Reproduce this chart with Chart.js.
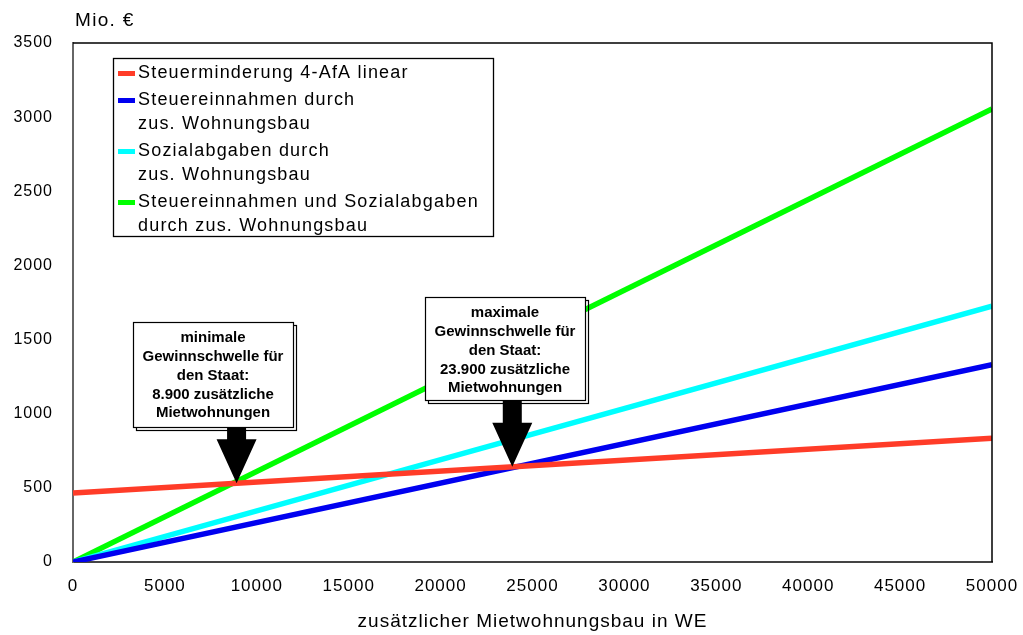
<!DOCTYPE html>
<html>
<head>
<meta charset="utf-8">
<script src="https://cdn.jsdelivr.net/npm/chart.js@4/dist/chart.umd.min.js"></script>
<style>
  html, body { margin: 0; padding: 0; background: #ffffff; }
  #wrap { width: 1023px; height: 635px; position: relative; }
</style>
</head>
<body>
<div id="wrap"><canvas id="chart"></canvas></div>
<script>
// x positions (zusätzliche Wohneinheiten) of the line ends
const wohneinheiten = [0, 50000];
// Mio. € at each end
const steuerminderung = [465, 835];
const steuereinnahmen = [0, 1330];
const sozialabgaben = [0, 1725];
const steuerUndSozial = [0, 3055];

const seriesNames = [
  ['Steuerminderung 4-AfA linear'],
  ['Steuereinnahmen durch', 'zus. Wohnungsbau'],
  ['Sozialabgaben durch', 'zus. Wohnungsbau'],
  ['Steuereinnahmen und Sozialabgaben', 'durch zus. Wohnungsbau']
];
const seriesColors = ['#ff3c28', '#0000f0', '#00ffff', '#00ff00'];

const xTickLabels = ['0', '5000', '10000', '15000', '20000', '25000', '30000', '35000', '40000', '45000', '50000'];
const yTickLabels = ['0', '500', '1000', '1500', '2000', '2500', '3000', '3500'];

// break-even points (WE) and their callout texts
const gewinnschwellen = [8900, 23900];
const schwellenTexte = [
  ['minimale', 'Gewinnschwelle für', 'den Staat:', '8.900 zusätzliche', 'Mietwohnungen'],
  ['maximale', 'Gewinnschwelle für', 'den Staat:', '23.900 zusätzliche', 'Mietwohnungen']
];

const FONT = 'Arial, "Liberation Sans", sans-serif';

function points(ys) {
  return wohneinheiten.map((x, i) => ({ x: x, y: ys[i] }));
}

// value of the tax-reduction line at a given x
function steuerminderungAt(x) {
  const x0 = wohneinheiten[0], x1 = wohneinheiten[1];
  const y0 = steuerminderung[0], y1 = steuerminderung[1];
  return y0 + (y1 - y0) * (x - x0) / (x1 - x0);
}

const spacingPlugin = {
  id: 'letterSpacing',
  beforeLayout(chart) { chart.ctx.letterSpacing = '1px'; },
  beforeDraw(chart) { chart.ctx.letterSpacing = '1px'; }
};

const decorPlugin = {
  id: 'decor',
  afterDatasetsDraw(chart) {
    const ctx = chart.ctx;
    const area = chart.chartArea;
    const xs = chart.scales.x, ys = chart.scales.y;
    ctx.save();

    // frame top and right
    ctx.strokeStyle = '#000';
    ctx.lineWidth = 1.5;
    ctx.beginPath();
    ctx.moveTo(area.left, area.top);
    ctx.lineTo(area.right, area.top);
    ctx.lineTo(area.right, area.bottom);
    ctx.stroke();

    // unit label
    ctx.letterSpacing = '1.3px';
    ctx.fillStyle = '#000';
    ctx.font = '19px ' + FONT;
    ctx.textAlign = 'left';
    ctx.textBaseline = 'middle';
    ctx.fillText('Mio. €', area.left + 2, 21);

    // legend
    const lg = { x: area.left + 40, y: area.top + 15, w: 380, h: 178 };
    ctx.fillStyle = '#fff';
    ctx.fillRect(lg.x, lg.y, lg.w, lg.h);
    ctx.lineWidth = 1.3;
    ctx.strokeStyle = '#000';
    ctx.strokeRect(lg.x + 0.5, lg.y + 0.5, lg.w, lg.h);
    ctx.font = '18px ' + FONT;
    ctx.letterSpacing = '1.2px';
    let ly = lg.y + 15;
    seriesNames.forEach((lines, i) => {
      ctx.fillStyle = seriesColors[i];
      ctx.fillRect(lg.x + 5, ly - 2, 17, 5);
      ctx.fillStyle = '#000';
      lines.forEach((t, j) => {
        ctx.fillText(t, lg.x + 25, ly + j * 24);
      });
      ly += lines.length * 24 + 3;
    });

    // callouts with arrows
    const boxes = [
      { x: 133, y: 322, w: 160, h: 105 },
      { x: 425, y: 297, w: 160, h: 103 }
    ];
    ctx.letterSpacing = '0px';
    gewinnschwellen.forEach((we, i) => {
      const b = boxes[i];
      const tipX = xs.getPixelForValue(we);
      const tipY = ys.getPixelForValue(steuerminderungAt(we));
      // shadow
      ctx.strokeStyle = '#000';
      ctx.lineWidth = 1.2;
      ctx.strokeRect(b.x + 3.5, b.y + 3.5, b.w, b.h);
      ctx.fillStyle = '#fff';
      ctx.fillRect(b.x, b.y, b.w, b.h);
      ctx.strokeRect(b.x + 0.5, b.y + 0.5, b.w, b.h);
      // arrow
      const shaft = 9.5, head = 20, headLen = 44;
      const startY = b.y + b.h + 1;
      ctx.fillStyle = '#000';
      ctx.beginPath();
      ctx.moveTo(tipX - shaft, startY);
      ctx.lineTo(tipX - shaft, tipY - headLen);
      ctx.lineTo(tipX - head, tipY - headLen);
      ctx.lineTo(tipX, tipY);
      ctx.lineTo(tipX + head, tipY - headLen);
      ctx.lineTo(tipX + shaft, tipY - headLen);
      ctx.lineTo(tipX + shaft, startY);
      ctx.closePath();
      ctx.fill();
      // text
      ctx.font = 'bold 15px ' + FONT;
      ctx.textAlign = 'center';
      ctx.textBaseline = 'middle';
      schwellenTexte[i].forEach((t, j) => {
        ctx.fillText(t, b.x + b.w / 2, b.y + 16 + j * 18.8);
      });
    });

    ctx.restore();
  }
};

const datasets = [steuerminderung, steuereinnahmen, sozialabgaben, steuerUndSozial].map((vals, i) => ({
  label: seriesNames[i].join(' '),
  data: points(vals),
  borderColor: seriesColors[i],
  backgroundColor: seriesColors[i],
  borderWidth: 5.5,
  pointRadius: 0,
  pointHoverRadius: 0,
  fill: false,
  tension: 0,
  borderCapStyle: 'butt'
}));

new Chart(document.getElementById('chart'), {
  type: 'line',
  data: { datasets: datasets },
  plugins: [spacingPlugin, decorPlugin],
  options: {
    responsive: true,
    maintainAspectRatio: false,
    animation: false,
    events: [],
    layout: { padding: { top: 43, right: 31, left: 0, bottom: 0 } },
    plugins: { legend: { display: false }, tooltip: { enabled: false }, title: { display: false } },
    scales: {
      x: {
        type: 'linear',
        min: 0,
        max: 50000,
        grid: { display: false, drawTicks: false },
        border: { display: true, color: '#444', width: 2 },
        afterBuildTicks(scale) {
          scale.ticks = xTickLabels.map(t => ({ value: Number(t) }));
        },
        ticks: {
          color: '#000',
          font: { family: FONT, size: 17 },
          padding: 14,
          maxRotation: 0,
          autoSkip: false,
          callback: (v, i) => xTickLabels[i]
        },
        title: {
          display: true,
          text: 'zusätzlicher Mietwohnungsbau in WE',
          color: '#000',
          font: { family: FONT, size: 19 },
          padding: { top: 4, bottom: 2 }
        },
        afterFit(scale) {
          scale.height = 73;
          scale.paddingLeft = 0;
          scale.paddingRight = 0;
        }
      },
      y: {
        type: 'linear',
        min: 0,
        max: 3500,
        grid: { display: false, drawTicks: false },
        border: { display: true, color: '#666', width: 2 },
        afterBuildTicks(scale) {
          scale.ticks = yTickLabels.map(t => ({ value: Number(t) }));
        },
        ticks: {
          color: '#000',
          font: { family: FONT, size: 16 },
          padding: 20,
          autoSkip: false,
          callback: (v, i) => yTickLabels[i]
        },
        afterFit(scale) {
          scale.width = 73;
          scale.paddingTop = 0;
          scale.paddingBottom = 0;
        }
      }
    }
  }
});
</script>
</body>
</html>
